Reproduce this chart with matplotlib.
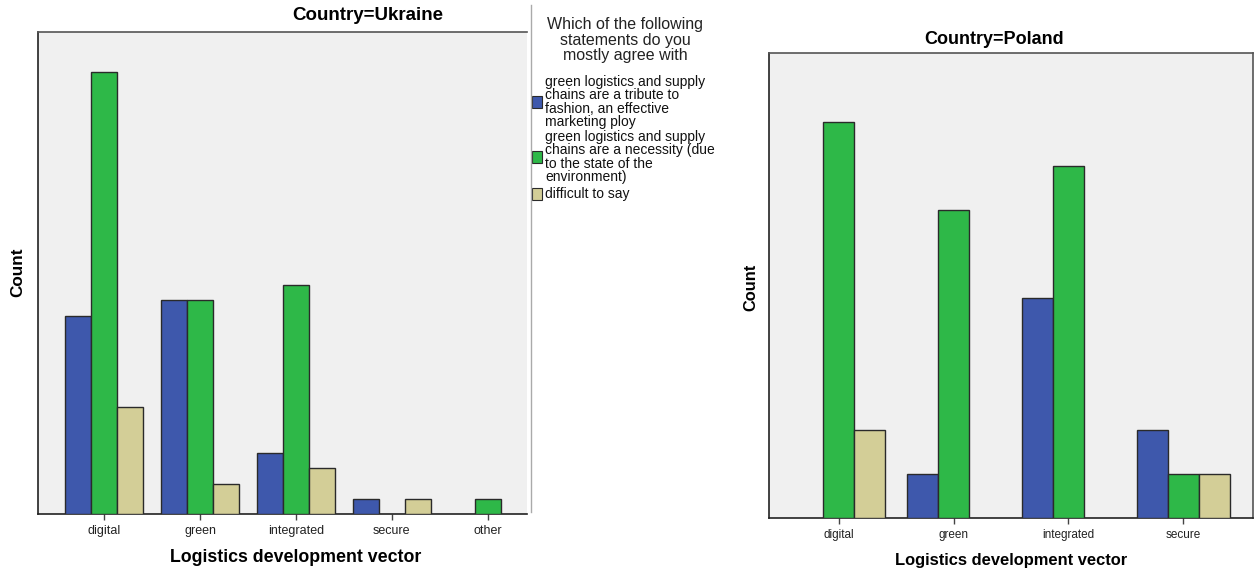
import numpy as np
import matplotlib.pyplot as plt

plt.rcParams['font.family'] = ['Liberation Sans', 'DejaVu Sans']

ukr_categories = ['digital', 'green', 'integrated', 'secure', 'other']
ukr_tribute = [13, 14, 4, 1, 0]
ukr_necessity = [29, 14, 15, 0, 1]
ukr_difficult = [7, 2, 3, 1, 0]

pol_categories = ['digital', 'green', 'integrated', 'secure']
pol_tribute = [0, 1, 5, 2]
pol_necessity = [9, 7, 8, 1]
pol_difficult = [2, 0, 0, 1]

legend_title = 'Which of the following\nstatements do you\nmostly agree with'
legend_labels = [
    'green logistics and supply\nchains are a tribute to\nfashion, an effective\nmarketing ploy',
    'green logistics and supply\nchains are a necessity (due\nto the state of the\nenvironment)',
    'difficult to say',
]
colors = ['#3e58ac', '#2eb848', '#d3ce97']
bg = '#f0f0f0'
edge = '#2a2a2a'

fig = plt.figure(figsize=(12.55, 5.7), dpi=100)


def draw(ax, cats, series, xlim, ylim, tick_fs, width=0.27):
    x = np.arange(len(cats))
    for i, (vals, c) in enumerate(zip(series, colors)):
        vals = np.array(vals)
        mask = vals > 0
        ax.bar(x[mask] + (i - 1) * width, vals[mask], width, color=c,
               edgecolor=edge, linewidth=1.0, zorder=3)
    ax.set_facecolor(bg)
    ax.set_xlim(xlim)
    ax.set_ylim(ylim)
    ax.set_xticks(x)
    ax.set_xticklabels(cats, fontsize=tick_fs, color='#222222')
    ax.set_yticks([])
    ax.tick_params(axis='x', length=4, width=1, color='#444444', pad=4)
    for s in ax.spines.values():
        s.set_color('#555555')
        s.set_linewidth(1.2)
    ax.spines['bottom'].set_color('#222222')
    ax.spines['left'].set_color('#222222')


# Ukraine panel (cropped on the right)
ax1 = fig.add_axes([0.0303, 0.0982, 0.42 - 0.0303, 0.9439 - 0.0982])
draw(ax1, ukr_categories, [ukr_tribute, ukr_necessity, ukr_difficult],
     (-0.69, 4.41), (0, 31.6), 9)
ax1.spines['right'].set_visible(False)

# Poland panel
ax2 = fig.add_axes([0.6127, 0.0912, 0.9985 - 0.6127, 0.907 - 0.0912])
draw(ax2, pol_categories, [pol_tribute, pol_necessity, pol_difficult],
     (-0.61, 3.61), (0, 10.57), 8.5)

# titles and axis labels
fig.text(368 / 1255, 1 - 16 / 570, 'Country=Ukraine', ha='center', va='center',
         fontsize=13.5, fontweight='bold')
fig.text(994 / 1255, 1 - 40 / 570, 'Country=Poland', ha='center', va='center',
         fontsize=13, fontweight='bold')
fig.text(18 / 1255, 1 - 272 / 570, 'Count', rotation=90, ha='center', va='center',
         fontsize=12.3, fontweight='bold')
fig.text(751 / 1255, 1 - 287 / 570, 'Count', rotation=90, ha='center', va='center',
         fontsize=11.8, fontweight='bold')
fig.text(296 / 1255, 1 - 558 / 570, 'Logistics development vector', ha='center',
         va='center', fontsize=12.8, fontweight='bold')
fig.text(1011 / 1255, 1 - 560 / 570, 'Logistics development vector', ha='center',
         va='center', fontsize=11.9, fontweight='bold')

# legend block
fig.add_artist(plt.Line2D([531 / 1255, 531 / 1255], [1 - 5 / 570, 1 - 512 / 570],
                          color='#aaaaaa', linewidth=1))
fig.text(625 / 1255, 1 - 40 / 570, legend_title, ha='center', va='center',
         fontsize=11.5, linespacing=1.06, color='#222222')
entry_y = [102, 157, 194]
for lab, c, yy in zip(legend_labels, colors, entry_y):
    fig.patches.append(plt.Rectangle((532 / 1255, 1 - (yy + 6) / 570), 10 / 1255, 12 / 570,
                                     transform=fig.transFigure, facecolor=c,
                                     edgecolor=edge, linewidth=0.8))
    fig.text(545 / 1255, 1 - yy / 570, lab, ha='left', va='center',
             fontsize=10, linespacing=0.93, color='#111111')

fig.savefig('out.png', dpi=100)
